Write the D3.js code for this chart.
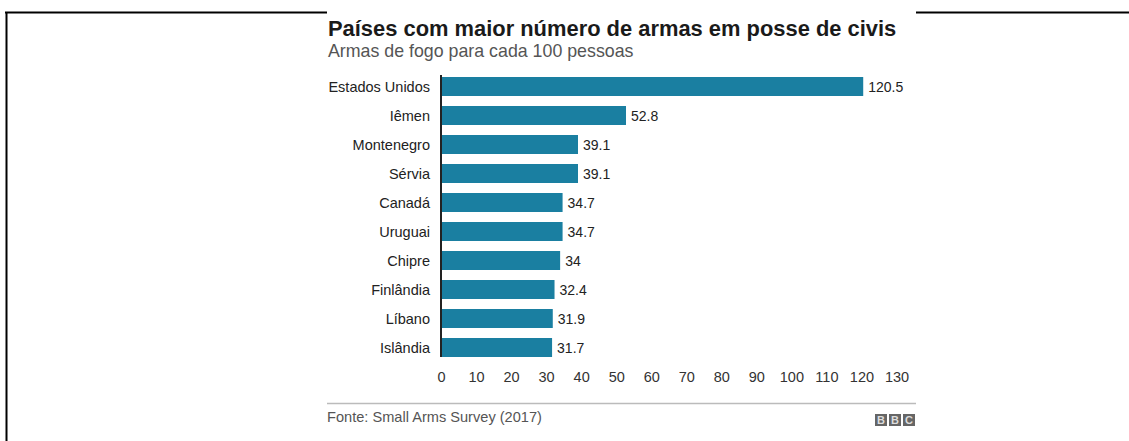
<!DOCTYPE html>
<html><head><meta charset="utf-8">
<script src="https://cdn.jsdelivr.net/npm/d3@7"></script>
<style>body{margin:0;background:#fff;}svg{display:block;font-family:"Liberation Sans",Arial,Helvetica,sans-serif;}</style>
</head><body>
<svg id="c" width="1129" height="441"></svg>
<script>
const countries = ["Estados Unidos","Iêmen","Montenegro","Sérvia","Canadá","Uruguai","Chipre","Finlândia","Líbano","Islândia"];
const values = [120.5,52.8,39.1,39.1,34.7,34.7,34,32.4,31.9,31.7];
const valueLabels = ["120.5","52.8","39.1","39.1","34.7","34.7","34","32.4","31.9","31.7"];
const xTicks = [0,10,20,30,40,50,60,70,80,90,100,110,120,130];
const title = "Países com maior número de armas em posse de civis";
const subtitle = "Armas de fogo para cada 100 pessoas";
const source = "Fonte: Small Arms Survey (2017)";

const svg = d3.select("#c");
svg.append("rect").attr("x",0).attr("y",0).attr("width",1129).attr("height",441).attr("fill","#fff");
svg.append("line").attr("x1",5).attr("x2",327).attr("y1",12.5).attr("y2",12.5).attr("stroke","#000").attr("stroke-width",2);
svg.append("line").attr("x1",916).attr("x2",1129).attr("y1",12.5).attr("y2",12.5).attr("stroke","#000").attr("stroke-width",2);
svg.append("line").attr("x1",6.5).attr("x2",6.5).attr("y1",12).attr("y2",441).attr("stroke","#000").attr("stroke-width",2);

svg.append("text").attr("x",328).attr("y",35.5).attr("font-size",21.9).attr("font-weight","bold").attr("fill","#1a1a1a").text(title);
svg.append("text").attr("x",328).attr("y",57).attr("font-size",17.8).attr("fill","#555").text(subtitle);

const x = d3.scaleLinear().domain([0,130]).range([441,896.5]);
const y = d3.scaleBand().domain(countries).range([72,362]).paddingInner(0.345).paddingOuter(0.1725);

const g = svg.append("g");
g.selectAll("rect.bar").data(values).join("rect").attr("class","bar")
  .attr("x",x(0)).attr("y",(d,i)=>y(countries[i]))
  .attr("width",d=>x(d)-x(0)).attr("height",y.bandwidth()).attr("fill","#1a7fa1");
g.selectAll("text.val").data(values).join("text").attr("class","val")
  .attr("x",d=>x(d)+5).attr("y",(d,i)=>y(countries[i])+y.bandwidth()/2+5)
  .attr("font-size",14).attr("fill","#222").text((d,i)=>valueLabels[i]);
g.selectAll("text.cat").data(countries).join("text").attr("class","cat")
  .attr("x",430).attr("y",d=>y(d)+y.bandwidth()/2+5).attr("text-anchor","end")
  .attr("font-size",14.5).attr("fill","#222").text(d=>d);
g.append("line").attr("x1",x(0)).attr("x2",x(0)).attr("y1",75).attr("y2",357).attr("stroke","#222").attr("stroke-width",2);

const ax = svg.append("g").attr("transform","translate(0,367)")
  .call(d3.axisBottom(x).tickValues(xTicks).tickSize(0).tickPadding(0).tickFormat(d3.format("d")));
ax.select(".domain").remove();
ax.selectAll("text").attr("font-size",14.5).attr("fill","#333").attr("font-family","Liberation Sans, Arial, sans-serif").attr("dy","1em");

svg.append("line").attr("x1",327).attr("x2",916).attr("y1",403.5).attr("y2",403.5).attr("stroke","#bbb").attr("stroke-width",1.5);
svg.append("text").attr("x",327).attr("y",422).attr("font-size",14.6).attr("fill","#555").text(source);

const logo = ["B","B","C"];
const lg = svg.append("g");
lg.selectAll("rect").data(logo).join("rect").attr("x",(d,i)=>875+i*14).attr("y",414).attr("width",12).attr("height",12).attr("fill","#666");
lg.selectAll("text").data(logo).join("text").attr("x",(d,i)=>881+i*14).attr("y",424).attr("text-anchor","middle")
  .attr("font-size",11).attr("font-weight","bold").attr("fill","#ddd").text(d=>d);
</script>
</body></html>
